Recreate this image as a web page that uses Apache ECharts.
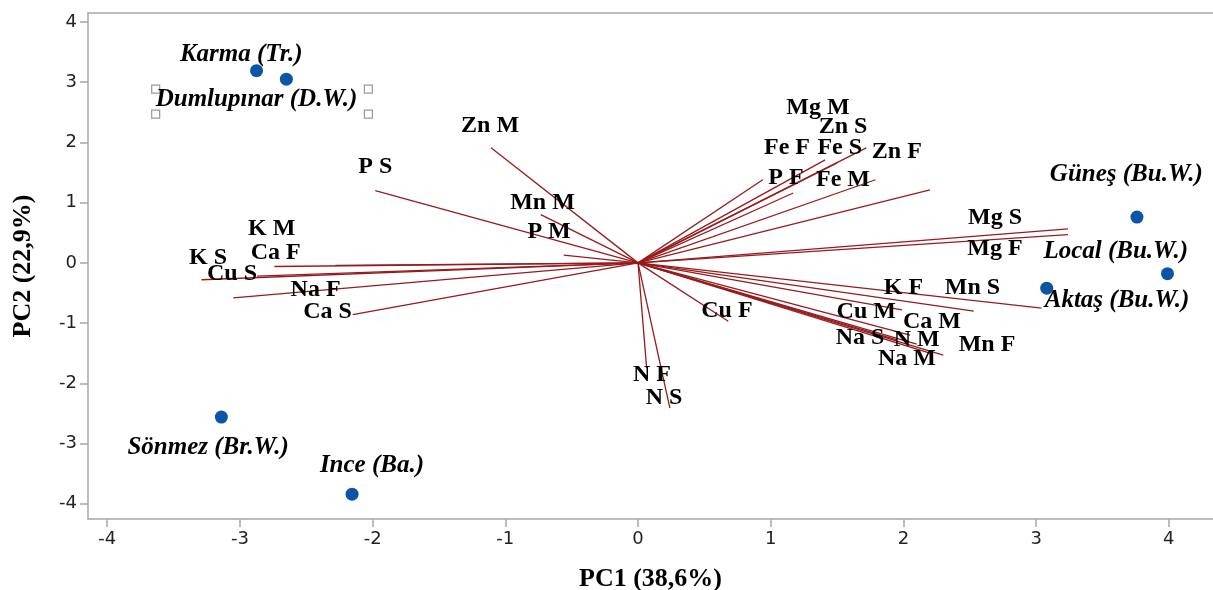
<!DOCTYPE html>
<html><head><meta charset="utf-8">
<script src="https://cdn.jsdelivr.net/npm/echarts@6/dist/echarts.min.js"></script>
<style>html,body{margin:0;padding:0;background:#fff}#c{width:1213px;height:590px}</style>
</head><body><div id="c"></div>
<script>
// Loading vectors (variables)
const varNames = ['Zn M','P S','Mn M','P M','K M','Ca F','K S','Cu S','Na F','Ca S',
  'Mg M','Zn S','Fe F','Fe S','Zn F','P F','Fe M','Mg S','Mg F',
  'K F','Mn S','Cu M','Ca M','Na S','N M','Mn F','Na M','Cu F','N F','N S'];
const varX = [-1.108,-1.98,-0.733,-0.56,-2.74,-2.28,-3.29,-2.87,-3.05,-2.15,
  1.50,1.72,1.17,1.41,2.20,0.94,1.79,3.24,3.24,
  2.53,3.04,1.99,2.05,1.95,2.10,2.30,2.20,0.68,0.065,0.24];
const varY = [1.91,1.20,0.80,0.13,-0.06,-0.04,-0.28,-0.22,-0.58,-0.86,
  1.66,1.91,1.16,1.71,1.21,1.38,1.38,0.565,0.47,
  -0.80,-0.75,-0.78,-1.20,-1.28,-1.35,-1.53,-1.50,-0.97,-1.75,-2.41];
// Label anchor positions of the variable names
const varLabelX = [-1.115,-1.98,-0.72,-0.67,-2.76,-2.73,-3.24,-3.06,-2.43,-2.34,
  1.356,1.545,1.123,1.52,1.95,1.115,1.545,2.69,2.69,
  2.0,2.52,1.72,2.215,1.673,2.10,2.63,2.027,0.67,0.105,0.196];
const varLabelY = [2.28,1.595,1.0,0.515,0.565,0.166,0.083,-0.18,-0.45,-0.81,
  2.575,2.26,1.91,1.91,1.844,1.41,1.38,0.75,0.23,
  -0.415,-0.415,-0.81,-0.98,-1.246,-1.28,-1.36,-1.595,-0.80,-1.86,-2.24];

// Observation scores
const obsNames = ['Karma (Tr.)','Dumlupınar (D.W.)','Güneş (Bu.W.)','Local (Bu.W.)','Aktaş (Bu.W.)','Sönmez (Br.W.)','Ince (Ba.)'];
const obsX = [-2.875,-2.65,3.76,3.99,3.08,-3.14,-2.155];
const obsY = [3.19,3.05,0.76,-0.18,-0.42,-2.56,-3.84];
const obsLabelX = [-2.99,-2.875,3.68,3.60,3.61,-3.24,-2.005];
const obsLabelY = [3.45,2.71,1.46,0.18,-0.63,-3.06,-3.36];

// Text-box handles around the Dumlupınar label
const handleX = [-3.635,-3.635,-2.032,-2.032];
const handleY = [2.885,2.47,2.885,2.47];

const tickValues = [-4,-3,-2,-1,0,1,2,3,4];
const xTitle = 'PC1 (38,6%)';
const yTitle = 'PC2 (22,9%)';

const SERIF = '"Liberation Serif","Times New Roman",serif';
const chart = echarts.init(document.getElementById('c'));
const axisColor = '#a8a8a8';
const XMIN = -4.145, XMAX = 4.333, YMIN = -4.252, YMAX = 4.148;

const lineData = varNames.map((n,i)=>({coords:[[0,0],[varX[i],varY[i]]]}));
const varLabelData = varNames.map((n,i)=>({name:n,value:[varLabelX[i],varLabelY[i]]}));
const obsData = obsNames.map((n,i)=>({name:n,value:[obsX[i],obsY[i]]}));
const obsLabelData = obsNames.map((n,i)=>({name:n,value:[obsLabelX[i],obsLabelY[i]]}));
const handleData = handleX.map((x,i)=>[x,handleY[i]]);

chart.setOption({
  animation:false,
  backgroundColor:'#fff',
  grid:{left:88,top:13,right:0,bottom:71,outerBoundsMode:'none',containLabel:false,show:false},
  xAxis:[{type:'value',min:XMIN,max:XMAX,
    name:xTitle,nameLocation:'middle',nameGap:47,
    nameTextStyle:{fontFamily:SERIF,fontWeight:'bold',fontSize:26,color:'#000'},
    axisLine:{show:true,onZero:false,lineStyle:{color:axisColor,width:1.5}},
    axisTick:{show:true,length:8,lineStyle:{color:axisColor,width:1.5},customValues:tickValues},
    axisLabel:{customValues:tickValues,fontFamily:'"DejaVu Sans",sans-serif',fontSize:18,color:'#222',margin:11},
    splitLine:{show:false}},
   {type:'value',min:XMIN,max:XMAX,position:'top',
    axisLine:{show:true,onZero:false,lineStyle:{color:axisColor,width:1.5}},
    axisTick:{show:false},axisLabel:{show:false},splitLine:{show:false}}],
  yAxis:{type:'value',min:YMIN,max:YMAX,
    name:yTitle,nameLocation:'middle',nameGap:52,
    nameTextStyle:{fontFamily:SERIF,fontWeight:'bold',fontSize:26,color:'#000'},
    axisLine:{show:true,onZero:false,lineStyle:{color:axisColor,width:1.5}},
    axisTick:{show:true,length:8,lineStyle:{color:axisColor,width:1.5},customValues:tickValues},
    axisLabel:{customValues:tickValues,fontFamily:'"DejaVu Sans",sans-serif',fontSize:18,color:'#222',margin:11},
    splitLine:{show:false}},
  series:[
    {type:'lines',coordinateSystem:'cartesian2d',data:lineData,silent:true,
      lineStyle:{color:'#971b1e',width:1.3,opacity:1},symbol:'none'},
    {type:'scatter',data:handleData,symbol:'rect',symbolSize:8,silent:true,
      itemStyle:{color:'#fff',borderColor:'#9a9a9a',borderWidth:1.2,opacity:1}},
    {type:'scatter',data:obsData,symbol:'circle',symbolSize:13,silent:true,
      itemStyle:{color:'#0b55a6',opacity:1}},
    {type:'scatter',data:varLabelData,symbolSize:1,silent:true,
      itemStyle:{color:'rgba(0,0,0,0)',opacity:1},
      label:{show:true,position:'inside',formatter:p=>p.name,
        fontFamily:SERIF,fontWeight:'bold',fontSize:24,color:'#000'}},
    {type:'scatter',data:obsLabelData,symbolSize:1,silent:true,
      itemStyle:{color:'rgba(0,0,0,0)',opacity:1},
      label:{show:true,position:'inside',formatter:p=>p.name,
        fontFamily:SERIF,fontWeight:'bold',fontStyle:'italic',fontSize:25,color:'#000'}}
  ]
});
</script></body></html>
